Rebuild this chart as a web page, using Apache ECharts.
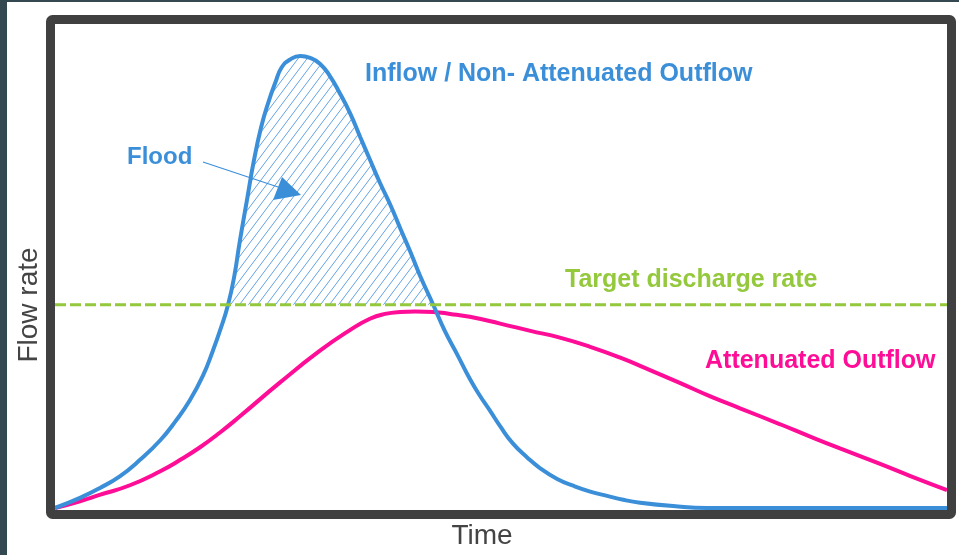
<!DOCTYPE html>
<html>
<head>
<meta charset="utf-8">
<title>Flood attenuation</title>
<script src="https://cdn.jsdelivr.net/npm/echarts@6/dist/echarts.min.js"></script>
<style>
  html, body { margin: 0; padding: 0; background: #fff; }
  #chart { width: 959px; height: 555px; }
</style>
</head>
<body>
<div id="chart"></div>
<script>
// values (time and flow both on a 0-100 scale)
const inflowTime = [0, 2.8, 5.0, 7.3, 9.5, 11.8, 13.5, 15.1, 16.6, 17.7, 18.6, 19.4, 20.1, 20.7, 21.5, 22.3, 23.1, 23.9, 24.7, 25.4, 26.3, 27.5, 28.6, 29.7, 30.8, 31.9, 33.1, 34.2, 35.3, 36.4, 37.6, 38.7, 39.8, 40.9, 42.4, 43.7, 45.1, 46.5, 47.6, 48.8, 49.9, 51.3, 52.9, 54.4, 56.3, 58.1, 60.0, 61.9, 63.7, 65.6, 69.3, 73.1, 100]
const inflowRate = [0, 2.1, 4.1, 6.6, 9.9, 14.0, 17.9, 22.2, 27.4, 32.5, 37.2, 42.0, 47.9, 54.9, 63.4, 71.8, 78.6, 83.7, 87.9, 91.0, 92.6, 93.4, 93.0, 91.8, 89.3, 85.8, 81.5, 76.7, 72.0, 67.3, 62.6, 57.8, 53.1, 48.1, 42.0, 36.6, 31.7, 26.7, 23.3, 20.0, 16.9, 13.4, 10.5, 8.2, 6.0, 4.6, 3.4, 2.5, 1.7, 1.1, 0.4, 0, 0]
const outflowTime = [0, 2.8, 5.0, 8.4, 11.8, 14.0, 16.3, 18.5, 20.7, 25.2, 29.7, 33.1, 35.3, 37.0, 38.7, 40.4, 42.4, 44.3, 46.5, 49.9, 53.3, 56.6, 60.0, 63.3, 66.7, 70.1, 73.4, 76.8, 81.3, 84.6, 88.0, 92.5, 95.9, 100]
const outflowRate = [0, 1.4, 2.7, 4.7, 7.6, 9.9, 12.6, 15.6, 18.9, 25.9, 32.5, 36.8, 39.1, 40.1, 40.5, 40.6, 40.5, 40.1, 39.5, 38.1, 36.6, 35.2, 33.3, 31.1, 28.5, 25.8, 23.1, 20.6, 17.3, 14.8, 12.3, 9.1, 6.6, 3.7]
const targetRate = 42
const timeRange = [0, 100]

const blue = '#3b8fd9'
const pink = '#ff0c97'
const green = '#94c83d'
const ink = '#444444'
const font = '"Liberation Sans", Arial, sans-serif'

function hatchPattern() {
  const w = 9, h = 12
  const c = document.createElement('canvas')
  c.width = w
  c.height = h
  const ctx = c.getContext('2d')
  ctx.strokeStyle = '#62a3e2'
  ctx.lineWidth = 1
  ctx.beginPath()
  for (let k = -1; k <= 1; k++) {
    ctx.moveTo(k * w, h)
    ctx.lineTo(k * w + w, 0)
  }
  ctx.stroke()
  return c
}

const inflow = inflowTime.map((t, i) => [t, inflowRate[i]])
const outflow = outflowTime.map((t, i) => [t, outflowRate[i]])
const flood = inflow.filter(p => p[1] >= targetRate)
const target = timeRange.map(t => [t, targetRate])

const chart = echarts.init(document.getElementById('chart'))

chart.setOption({
  animation: false,
  backgroundColor: '#ffffff',
  grid: { left: 55, top: 24, width: 892, height: 486 },
  xAxis: {
    type: 'value',
    min: timeRange[0],
    max: timeRange[1],
    name: 'Time',
    nameLocation: 'middle',
    nameGap: 14,
    nameTextStyle: { fontSize: 28, color: ink, fontFamily: font, padding: [0, 38, 0, 0] },
    axisLine: { show: false },
    axisTick: { show: false },
    axisLabel: { show: false },
    splitLine: { show: false }
  },
  yAxis: {
    type: 'value',
    min: 0,
    max: 100,
    name: 'Flow rate',
    nameLocation: 'middle',
    nameRotate: 90,
    nameGap: 12,
    nameTextStyle: { fontSize: 28, color: ink, fontFamily: font, padding: [0, 78, 0, 0] },
    axisLine: { show: false },
    axisTick: { show: false },
    axisLabel: { show: false },
    splitLine: { show: false }
  },
  series: [
    {
      name: 'Flood',
      type: 'line',
      data: flood,
      smooth: 0.5,
      symbol: 'none',
      lineStyle: { width: 0 },
      areaStyle: { origin: targetRate, color: { image: hatchPattern(), repeat: 'repeat' }, opacity: 1 },
      z: 1
    },
    {
      name: 'Attenuated Outflow',
      type: 'line',
      data: outflow,
      smooth: 0.5,
      symbol: 'none',
      lineStyle: { width: 4, color: pink },
      z: 2
    },
    {
      name: 'Inflow / Non- Attenuated Outflow',
      type: 'line',
      data: inflow,
      smooth: 0.5,
      symbol: 'none',
      lineStyle: { width: 4, color: blue },
      z: 3
    },
    {
      name: 'Target discharge rate',
      type: 'line',
      data: target,
      symbol: 'none',
      lineStyle: { width: 3, color: green, type: [11, 4] },
      z: 4
    }
  ],
  graphic: [
    { type: 'rect', z: 100, shape: { x: 0, y: 0, width: 7, height: 555 }, style: { fill: '#344852' } },
    { type: 'rect', z: 100, shape: { x: 0, y: 0, width: 959, height: 2 }, style: { fill: '#344852' } },
    {
      type: 'rect', z: 100,
      shape: { x: 50.5, y: 19.5, width: 901, height: 495, r: 2 },
      style: { fill: 'none', stroke: '#404040', lineWidth: 9 }
    },
    {
      type: 'text', z: 100, x: 365, y: 74,
      style: { text: 'Inflow / Non- Attenuated Outflow', font: 'bold 25px ' + font, fill: blue, textVerticalAlign: 'middle' }
    },
    {
      type: 'text', z: 100, x: 127, y: 157,
      style: { text: 'Flood', font: 'bold 24px ' + font, fill: blue, textVerticalAlign: 'middle' }
    },
    {
      type: 'text', z: 100, x: 565, y: 280,
      style: { text: 'Target discharge rate', font: 'bold 25px ' + font, fill: green, textVerticalAlign: 'middle' }
    },
    {
      type: 'text', z: 100, x: 705, y: 361,
      style: { text: 'Attenuated Outflow', font: 'bold 25px ' + font, fill: pink, textVerticalAlign: 'middle' }
    },
    {
      type: 'line', z: 100,
      shape: { x1: 203, y1: 162, x2: 284, y2: 189 },
      style: { stroke: blue, lineWidth: 1.2 }
    },
    {
      type: 'polygon', z: 100,
      shape: { points: [[282, 177], [273, 200], [301, 195]] },
      style: { fill: blue }
    }
  ]
})
</script>
</body>
</html>
